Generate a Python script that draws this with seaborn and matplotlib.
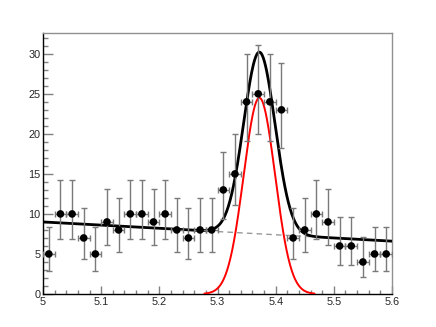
import numpy as np
import matplotlib
matplotlib.use("Agg")
import matplotlib.pyplot as plt
import seaborn as sns
from matplotlib.ticker import MultipleLocator, FixedLocator

# data: bin centres, counts and Poisson (68%) errors
bin_centers = [5.01, 5.03, 5.05, 5.07, 5.09, 5.11, 5.13, 5.15, 5.17, 5.19,
               5.21, 5.23, 5.25, 5.27, 5.29, 5.31, 5.33, 5.35, 5.37, 5.39,
               5.41, 5.43, 5.45, 5.47, 5.49, 5.51, 5.53, 5.55, 5.57, 5.59]
counts = [5, 10, 10, 7, 5, 9, 8, 10, 10, 9,
          10, 8, 7, 8, 8, 13, 15, 24, 25, 24,
          23, 7, 8, 10, 9, 6, 6, 4, 5, 5]
err_low_by_n = {4: 1.91, 5: 2.16, 6: 2.38, 7: 2.58, 8: 2.77, 9: 2.94, 10: 3.11,
                13: 3.58, 15: 3.87, 23: 4.77, 24: 4.87, 25: 4.97}
err_high_by_n = {4: 3.16, 5: 3.38, 6: 3.58, 7: 3.77, 8: 3.96, 9: 4.13, 10: 4.27,
                 13: 4.71, 15: 4.97, 23: 5.86, 24: 5.96, 25: 6.06}
bin_half_width = 0.01

# fit results
bkg_at_5 = 9.0
bkg_slope = -4.0
sig_mean = 5.372
sig_sigma = 0.027
sig_amp_total = 22.7
sig_amp_red = 24.5

x_ticks = [5.0, 5.1, 5.2, 5.3, 5.4, 5.5, 5.6]
x_labels = ["5", "5.1", "5.2", "5.3", "5.4", "5.5", "5.6"]
y_ticks = [0, 5, 10, 15, 20, 25, 30]


def gauss(x, amp):
    return amp * np.exp(-0.5 * ((x - sig_mean) / sig_sigma) ** 2)


sns.set_style("ticks")
plt.rcParams["font.family"] = ["Liberation Sans", "DejaVu Sans"]

fig = plt.figure(figsize=(4.36, 3.27), dpi=100)
ax = fig.add_axes([43 / 436, 33 / 327, 349 / 436, 261 / 327])

xs = np.linspace(5.0, 5.6, 600)
bkg = bkg_at_5 + bkg_slope * (xs - 5.0)
total = bkg + gauss(xs, sig_amp_total)
red = gauss(xs, sig_amp_red)
red_mask = red > 0.05

ax.plot(xs, bkg, color="#999999", lw=1.0, ls=(0, (4, 3)), zorder=2)
sns.lineplot(x=xs[red_mask], y=red[red_mask], color="red", lw=1.4, ax=ax,
             zorder=3, estimator=None, sort=False)
sns.lineplot(x=xs, y=total, color="black", lw=2.0, ax=ax, zorder=4,
             estimator=None, sort=False)

lo = [err_low_by_n[n] for n in counts]
hi = [err_high_by_n[n] for n in counts]
eb = ax.errorbar(bin_centers, counts, yerr=[lo, hi],
                 xerr=bin_half_width, fmt="none", ecolor="#7a7a7a",
                 elinewidth=1.0, capsize=2, capthick=1.0, zorder=5)
for cap in eb[1]:
    cap.set_color("black")
sns.scatterplot(x=bin_centers, y=counts, color="black", s=30,
                edgecolor="none", ax=ax, zorder=6)

ax.set_xlim(5.0, 5.6)
ax.set_ylim(0, 32.6)
ax.xaxis.set_major_locator(FixedLocator(x_ticks))
ax.set_xticklabels(x_labels)
ax.xaxis.set_minor_locator(MultipleLocator(0.02))
ax.yaxis.set_major_locator(FixedLocator(y_ticks))
ax.yaxis.set_minor_locator(MultipleLocator(1))
ax.tick_params(which="both", direction="in", color="#808080", width=1.0,
               labelsize=7.8, pad=2)
ax.tick_params(axis="x", which="major", length=5.8)
ax.tick_params(axis="x", which="minor", length=3.0)
ax.tick_params(axis="y", which="major", length=7.0)
ax.tick_params(axis="y", which="minor", length=3.8)
ax.tick_params(top=False, right=False, which="both")

for side in ["left", "bottom"]:
    ax.spines[side].set_color("black")
    ax.spines[side].set_linewidth(1.0)
for side in ["top", "right"]:
    ax.spines[side].set_color("#909090")
    ax.spines[side].set_linewidth(1.0)

ax.set_xlabel("")
ax.set_ylabel("")

fig.savefig("out.png", dpi=100)
